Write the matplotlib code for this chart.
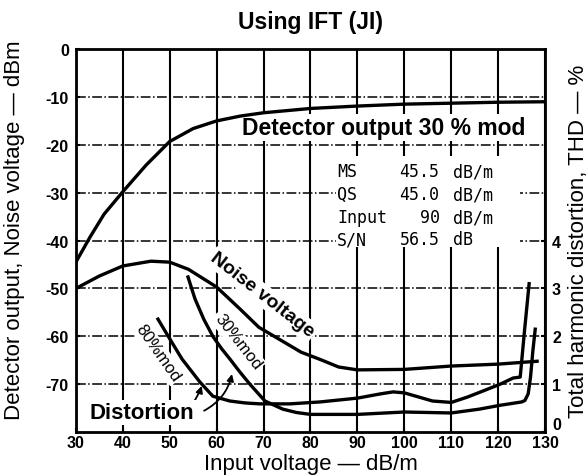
import matplotlib.pyplot as plt
from matplotlib.patches import Rectangle

plt.rcParams['font.family'] = ['Liberation Sans', 'DejaVu Sans']
plt.rcParams['axes.unicode_minus'] = False

# detector output, 30 % mod (dBm)
det_x = [30, 33, 36, 40, 45, 50, 55, 60, 65, 70, 80, 90, 100, 110, 120, 130]
det_y = [-44.5, -39.3, -34.5, -29.8, -24.2, -19.3, -16.6, -15.0, -14.0, -13.3,
         -12.4, -11.9, -11.5, -11.3, -11.1, -11.0]

# noise voltage (dBm)
noise_x = [30, 35, 40, 46, 50, 54, 60, 65, 69, 73.5, 78, 82, 86, 90, 100, 110, 120, 128.3]
noise_y = [-50.0, -47.4, -45.3, -44.3, -44.5, -46.0, -49.7, -54.3, -58.1, -60.7,
           -63.3, -64.8, -66.4, -67.0, -66.9, -66.2, -65.8, -65.2]

# total harmonic distortion, 80 % mod (%)
d80_x = [47.5, 50, 52.6, 56.4, 59.2, 62.8, 66, 69.2, 75.6, 82, 90, 95, 97.6, 100,
         106, 110, 113.4, 116.8, 120.4, 123.2, 124.7, 125.6, 126.6]
d80_y = [2.36, 1.95, 1.53, 1.05, 0.75, 0.65, 0.61, 0.59, 0.59, 0.63, 0.71, 0.8,
         0.84, 0.82, 0.65, 0.62, 0.73, 0.86, 1.0, 1.13, 1.15, 2.1, 3.1]

# total harmonic distortion, 30 % mod (%)
d30_x = [53.9, 55.4, 57.3, 59.2, 61, 62.8, 65, 67.1, 70.3, 74.1, 77, 80, 90, 100,
         110, 116, 120.4, 125, 125.7, 126.4, 126.9, 127.4, 127.9]
d30_y = [3.24, 2.78, 2.35, 2.0, 1.75, 1.53, 1.25, 1.0, 0.65, 0.48, 0.41, 0.37,
         0.37, 0.42, 0.40, 0.48, 0.56, 0.63, 0.66, 0.8, 1.15, 1.7, 2.15]

x_ticks = [30, 40, 50, 60, 70, 80, 90, 100, 110, 120, 130]
y_ticks = [0, -10, -20, -30, -40, -50, -60, -70]
thd_ticks = [0, 1, 2, 3, 4]

info_rows = [("MS", "45.5", "dB/m"),
             ("QS", "45.0", "dB/m"),
             ("Input", "90", "dB/m"),
             ("S/N", "56.5", "dB")]

fig = plt.figure(figsize=(5.88, 4.77), dpi=100)
ax = fig.add_axes([0.129, 0.092, 0.798, 0.803])
ax.set_xlim(30, 130)
ax.set_ylim(-80, 0)
ax.set_axisbelow(True)

ax.set_xticks(x_ticks)
ax.set_yticks(y_ticks)
ax.grid(axis='x', color='black', linestyle='-', linewidth=1.5)
ax.grid(axis='y', color='black', linestyle='-.', linewidth=1.1)
for s in ax.spines.values():
    s.set_linewidth(2)
ax.tick_params(axis='y', length=3, width=1.5, direction='in', pad=5)
ax.tick_params(axis='x', length=3, width=1.5, direction='in', pad=2)
for lab in ax.get_xticklabels() + ax.get_yticklabels():
    lab.set_fontweight('bold')
    lab.set_fontsize(11.5)

ax.plot(det_x, det_y, color='black', lw=2.4, zorder=5)
ax.plot(noise_x, noise_y, color='black', lw=2.4, zorder=3)

# blank patch behind the spec block
ax.add_patch(Rectangle((85.4, -41.3), 39.2, 19.0, facecolor='white',
                       edgecolor='none', zorder=1.5))

white = dict(facecolor='white', edgecolor='none', pad=1.5)
ax.text(95.5, -16.4, "Detector output 30 % mod", fontsize=16.5, fontweight='bold',
        ha='center', va='center', bbox=white, zorder=4)
ax.text(69.7, -51.3, "Noise voltage", fontsize=14, fontweight='bold',
        rotation=-38, ha='center', va='center', bbox=white, zorder=4)
ax.text(64.5, -61.0, "30%mod", fontsize=12, rotation=-52,
        ha='center', va='center', bbox=white, zorder=4)
ax.text(47.5, -63.3, "80%mod", fontsize=12, rotation=-55,
        ha='center', va='center', bbox=white, zorder=4)
ax.text(44.0, -75.8, "Distortion", fontsize=16, fontweight='bold',
        ha='center', va='center', bbox=white, zorder=4)

ax.annotate("", xy=(57.0, -69.8), xytext=(54.5, -74.5),
            arrowprops=dict(arrowstyle='-|>', color='black', lw=1.3,
                            mutation_scale=10, connectionstyle='arc3,rad=0.1'))
ax.annotate("", xy=(63.4, -67.3), xytext=(56.8, -75.8),
            arrowprops=dict(arrowstyle='-|>', color='black', lw=1.3,
                            mutation_scale=10, connectionstyle='arc3,rad=0.25'))

row_y = [-25.5, -30.3, -35.1, -39.7]
for (name, val, unit), yy in zip(info_rows, row_y):
    ax.text(85.7, yy, name, family='DejaVu Sans Mono', fontsize=12,
            ha='left', va='center', zorder=4)
    ax.text(107.5, yy, val, family='DejaVu Sans Mono', fontsize=12,
            ha='right', va='center', zorder=4)
    ax.text(110.4, yy, unit, family='DejaVu Sans Mono', fontsize=12,
            ha='left', va='center', zorder=4)

ax.set_xlabel("Input voltage \u2014 dB/m", fontsize=16, labelpad=2)
ax.set_ylabel("Detector output, Noise voltage \u2014 dBm", fontsize=16)
ax.set_title("Using IFT (JI)", fontsize=16.5, fontweight='bold', pad=15)
ax.yaxis.set_label_coords(-0.108, 0.53)

ax2 = ax.twinx()
ax2.set_ylim(0, 8)
ax2.set_yticks(thd_ticks)
ax2.tick_params(length=3, width=1.5, direction='in', pad=5)
for lab in ax2.get_yticklabels():
    lab.set_fontweight('bold')
    lab.set_fontsize(11.5)
ax2.get_yticklabels()[0].set_verticalalignment('bottom')
ax2.plot(d80_x, d80_y, color='black', lw=2.4, zorder=3)
ax2.plot(d30_x, d30_y, color='black', lw=2.4, zorder=3)
ax2.set_ylabel("Total harmonic distortion, THD \u2014 %", fontsize=16)
ax2.yaxis.set_label_coords(1.048, 0.5)

fig.savefig("out.png", dpi=100)
